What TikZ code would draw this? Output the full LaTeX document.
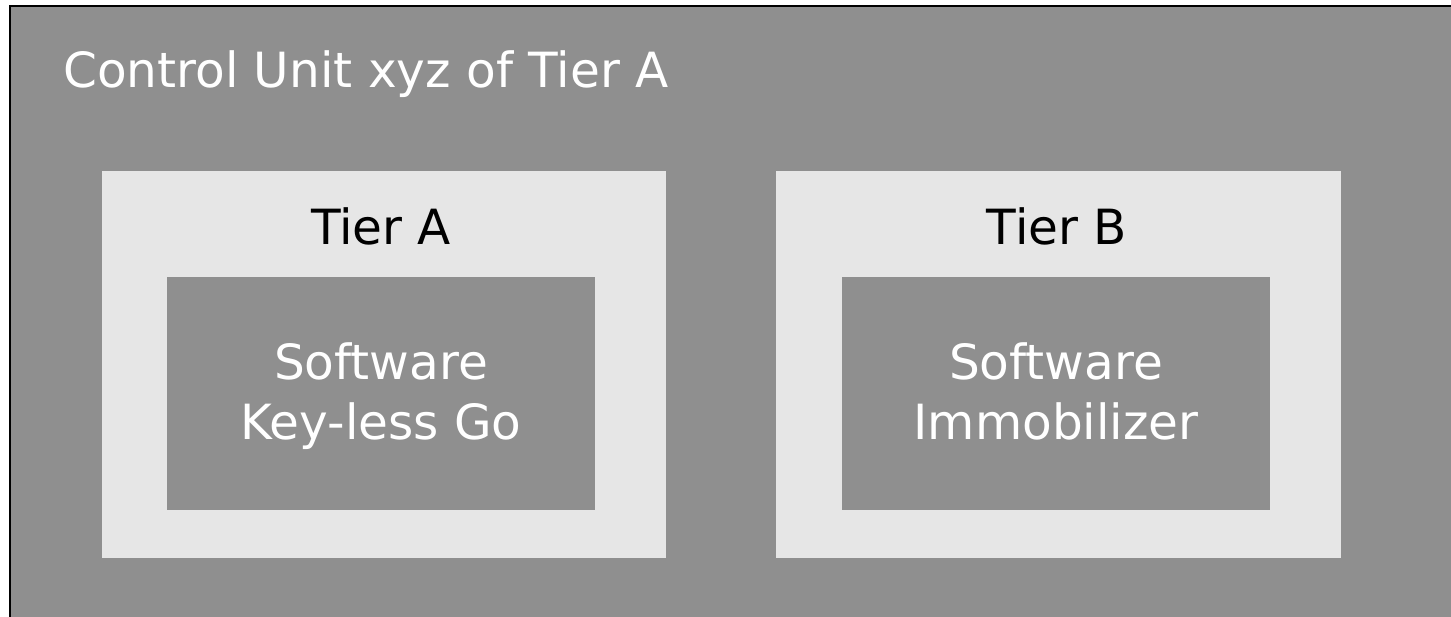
\documentclass[tikz,border=0pt]{standalone}
\usepackage{fontspec}
\setmainfont{DejaVu Sans}
\definecolor{unitgray}{HTML}{8F8F8F}
\definecolor{tierfill}{HTML}{E6E6E6}
\begin{document}
\begin{tikzpicture}[x=1pt,y=-1pt,
  lbl/.style={font=\fontsize{48.5}{60}\selectfont, text=#1, align=center, inner sep=0pt, anchor=base},
  lbl/.default=black,
  tierbox/.style={fill=tierfill, draw=none},
  swbox/.style={fill=unitgray, draw=none}]
  \useasboundingbox (0,0) rectangle (1451,617);
  % control unit frame (continues past the bottom and right edges)
  \fill[unitgray] (10,6) rectangle (1451,617);
  \draw[line width=2.5pt] (10,617) -- (10,6) -- (1451,6);
  \node[lbl=white, anchor=base west] (unit) at (63,88) {Control Unit xyz of Tier A};
  % tier A
  \path[tierbox] (102,171) rectangle (666,558);
  \node[lbl] (tierAlbl) at (381,245) {Tier A};
  \path[swbox] (167,277) rectangle (595,510);
  \node[lbl=white] (swA) at (381,439) {Software\\Key-less Go};
  % tier B
  \path[tierbox] (776,171) rectangle (1341,558);
  \node[lbl] (tierBlbl) at (1057,245) {Tier B};
  \path[swbox] (842,277) rectangle (1270,510);
  \node[lbl=white] (swB) at (1056,439) {Software\\Immobilizer};
\end{tikzpicture}
\end{document}
